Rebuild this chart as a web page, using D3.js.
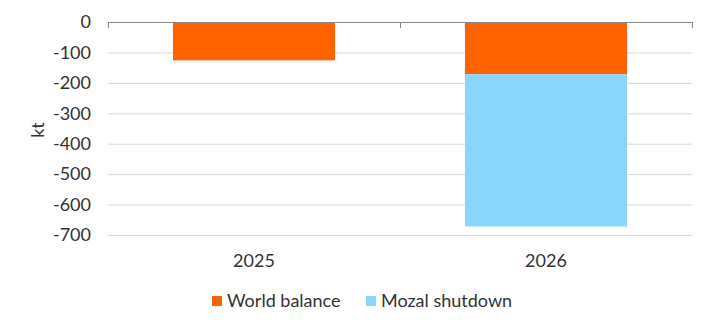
<!DOCTYPE html>
<html>
<head>
<meta charset="utf-8">
<script src="https://cdn.jsdelivr.net/npm/d3@7"></script>
<style>
  html, body { margin: 0; padding: 0; background: #fff; }
  svg { display: block; font-family: "Lato", "Open Sans", sans-serif; }
</style>
</head>
<body>
<svg id="chart" width="715" height="331"></svg>
<script>
// Supply/demand balance by year (kt)
const categories = ["2025", "2026"];
const seriesNames = ["World balance", "Mozal shutdown"];
const worldBalance = [-126, -172];
const mozalShutdown = [0, -500];
const yTicks = [0, -100, -200, -300, -400, -500, -600, -700];
const colors = ["#FF6200", "#89D6FA"];

const svg = d3.select("#chart");
const margin = { left: 108, right: 23, top: 22, bottom: 96 };
const W = 715, H = 331;
const FS = 18;

const x = d3.scaleBand()
  .domain(categories)
  .range([margin.left, W - margin.right])
  .paddingInner(0.445)
  .paddingOuter(0.2225);

const y = d3.scaleLinear()
  .domain([0, -700])
  .range([margin.top, H - margin.bottom]);

// Gridlines
svg.append("g")
  .selectAll("line")
  .data(yTicks.filter(d => d !== 0))
  .join("line")
  .attr("x1", margin.left)
  .attr("x2", W - margin.right)
  .attr("y1", d => y(d) + 0.5)
  .attr("y2", d => y(d) + 0.5)
  .attr("stroke", "#d9d9d9")
  .attr("stroke-width", 1);

// Y axis labels
svg.append("g")
  .selectAll("text")
  .data(yTicks)
  .join("text")
  .attr("x", 91)
  .attr("y", d => y(d))
  .attr("dy", "0.35em")
  .attr("text-anchor", "end")
  .attr("font-size", FS)
  .attr("fill", "#333")
  .text(d => d);

// Axis title
svg.append("text")
  .attr("transform", "translate(44,130) rotate(-90)")
  .attr("text-anchor", "middle")
  .attr("font-size", FS)
  .attr("fill", "#333")
  .text("kt");

// Stacked bars
const rows = categories.map((c, i) => ({ cat: c, world: worldBalance[i], mozal: mozalShutdown[i] }));
const stack = d3.stack().keys(["world", "mozal"]).offset(d3.stackOffsetDiverging);
const stacked = stack(rows);

svg.append("g")
  .selectAll("g")
  .data(stacked)
  .join("g")
  .attr("fill", (d, i) => colors[i])
  .selectAll("rect")
  .data(d => d.filter(s => s[0] !== s[1]))
  .join("rect")
  .attr("x", d => x(d.data.cat))
  .attr("width", x.bandwidth())
  .attr("y", d => y(Math.max(d[0], d[1])))
  .attr("height", d => Math.abs(y(d[0]) - y(d[1])));

// Zero axis line with category boundary ticks
const axisG = svg.append("g").attr("stroke", "#888").attr("stroke-width", 1);
axisG.append("line")
  .attr("x1", margin.left).attr("x2", W - margin.right)
  .attr("y1", y(0) + 0.5).attr("y2", y(0) + 0.5);
const bounds = [margin.left, ...categories.slice(1).map(c => x(c) - x.step() * x.paddingInner() / 2), W - margin.right];
axisG.selectAll("line.tick")
  .data(bounds)
  .join("line")
  .attr("class", "tick")
  .attr("x1", d => Math.round(d) + 0.5).attr("x2", d => Math.round(d) + 0.5)
  .attr("y1", y(0)).attr("y2", y(0) + 6);

// Category labels
svg.append("g")
  .selectAll("text")
  .data(categories)
  .join("text")
  .attr("x", d => x(d) + x.bandwidth() / 2)
  .attr("y", 267)
  .attr("text-anchor", "middle")
  .attr("font-size", FS)
  .attr("fill", "#333")
  .text(d => d);

// Legend
const legendItems = [
  { name: seriesNames[0], color: colors[0], x: 212 },
  { name: seriesNames[1], color: colors[1], x: 366 }
];
const lg = svg.append("g");
lg.selectAll("rect")
  .data(legendItems)
  .join("rect")
  .attr("x", d => d.x).attr("y", 296)
  .attr("width", 10).attr("height", 10)
  .attr("fill", d => d.color);
lg.selectAll("text")
  .data(legendItems)
  .join("text")
  .attr("x", d => d.x + 15)
  .attr("y", 307)
  .attr("font-size", FS)
  .attr("fill", "#333")
  .text(d => d.name);
</script>
</body>
</html>
